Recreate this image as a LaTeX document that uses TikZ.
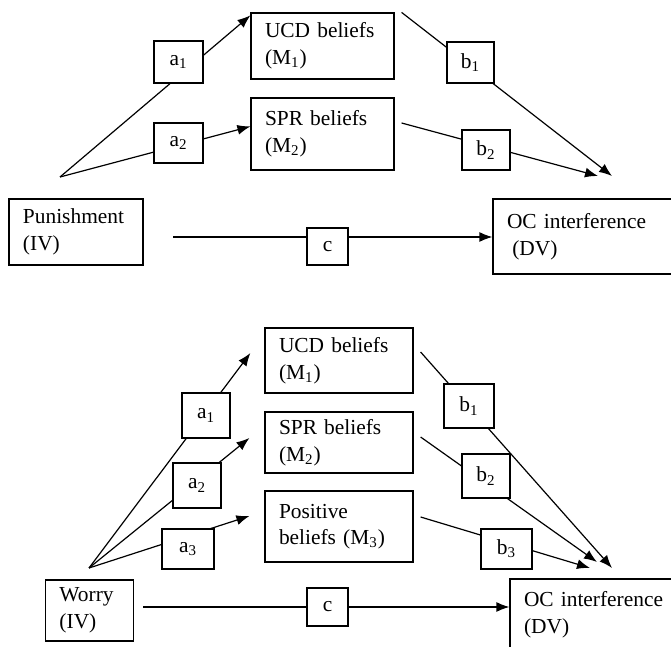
\documentclass[tikz,border=0pt]{standalone}
\usepackage{fontspec}
\setmainfont{Liberation Serif}
\usetikzlibrary{arrows.meta}

\begin{document}
\begin{tikzpicture}[
    x=0.5pt,y=-0.5pt,
    line width=0.6pt,
    font=\fontsize{10.7}{13.3}\selectfont,
    varbox/.style={draw, fill=white, align=left, inner xsep=7pt, inner ysep=0pt},
    coefbox/.style={draw, fill=white, inner sep=0pt},
    link/.style={-{Latex[length=6.5pt,width=5pt]}}
  ]
    \useasboundingbox (0,0) rectangle (671,647);
    \clip (0,0) rectangle (671,647);

    \node[varbox, text width=53pt, minimum height=33pt] (punA) at (76,232)
      {Punishment\\(IV)};
    \node[varbox, text width=57.5pt, minimum height=33pt] (ucdA) at (322.5,46)
      {UCD beliefs\\(M\textsubscript{1})};
    \node[varbox, text width=57.5pt, minimum height=36pt] (sprA) at (322.5,134)
      {SPR beliefs\\(M\textsubscript{2})};
    \node[varbox, text width=79.5pt, minimum height=37.5pt] (ocA) at (586.5,236.5)
      {OC interference\\\hspace*{0.25em}(DV)};

    \coordinate (fanA) at (60,177);
    \coordinate (srcA) at (173,237);
    \coordinate (sinkA1) at (612,176);
    \coordinate (sinkA2) at (598,176);

    \draw[link] (fanA) -- (ucdA.157);
    \draw[link] (fanA) -- (sprA.174);
    \draw[link] ([xshift=3.5pt]ucdA.north east) -- (sinkA1);
    \draw[link] ([xshift=3.5pt,yshift=5.5pt]sprA.east) -- (sinkA2);
    \draw[link] (srcA) -- (srcA -| ocA.west);

    \node[coefbox, minimum width=24.5pt, minimum height=21pt] (a1A) at (178.5,62) {a\textsubscript{1}};
    \node[coefbox, minimum width=24.5pt, minimum height=20pt] (a2A) at (178.5,143) {a\textsubscript{2}};
    \node[coefbox, minimum width=23.5pt, minimum height=20.5pt] (b1A) at (470.5,62.5) {b\textsubscript{1}};
    \node[coefbox, minimum width=24pt, minimum height=20pt] (b2A) at (486,150) {b\textsubscript{2}};
    \node[coefbox, minimum width=20.5pt, minimum height=18.5pt] (cA) at (327.5,246.5) {c};

    \node[varbox, text width=30pt, minimum height=30.5pt] (worryB) at (89.5,610.5)
      {Worry\\(IV)};
    \node[varbox, text width=60pt, minimum height=32.5pt] (ucdB) at (339,360.5)
      {UCD beliefs\\(M\textsubscript{1})};
    \node[varbox, text width=60pt, minimum height=30.5pt] (sprB) at (339,442.5)
      {SPR beliefs\\(M\textsubscript{2})};
    \node[varbox, text width=60pt, minimum height=35.5pt] (posB) at (339,526.5)
      {Positive\\beliefs (M\textsubscript{3})};
    \node[varbox, text width=71pt, minimum height=36pt] (ocB) at (595,615)
      {OC interference\\(DV)};

    \coordinate (fanB) at (89,568);
    \coordinate (srcB) at (143,607);
    \coordinate (sinkB1) at (612,568);
    \coordinate (sinkB2) at (597,562);
    \coordinate (sinkB3) at (590,568);

    \draw[link] (fanB) -- ([xshift=-7pt,yshift=3.75pt]ucdB.west);
    \draw[link] (fanB) -- ([xshift=-7.5pt,yshift=2.25pt]sprB.west);
    \draw[link] (fanB) -- ([xshift=-7.5pt,yshift=5.25pt]posB.west);
    \draw[link] ([xshift=3.5pt,yshift=4.25pt]ucdB.east) -- (sinkB1);
    \draw[link] ([xshift=3.5pt,yshift=2.75pt]sprB.east) -- (sinkB2);
    \draw[link] ([xshift=3.5pt,yshift=4.75pt]posB.east) -- (sinkB3);
    \draw[link] (srcB) -- (srcB -| ocB.west);

    \node[coefbox, minimum width=24pt, minimum height=22.5pt] (a1B) at (206,415.5) {a\textsubscript{1}};
    \node[coefbox, minimum width=24pt, minimum height=22.5pt] (a2B) at (197,485.5) {a\textsubscript{2}};
    \node[coefbox, minimum width=26pt, minimum height=20pt] (a3B) at (188,549) {a\textsubscript{3}};
    \node[coefbox, minimum width=25pt, minimum height=22pt] (b1B) at (469,406) {b\textsubscript{1}};
    \node[coefbox, minimum width=24pt, minimum height=22pt] (b2B) at (486,476) {b\textsubscript{2}};
    \node[coefbox, minimum width=25.5pt, minimum height=20pt] (b3B) at (506.5,549) {b\textsubscript{3}};
    \node[coefbox, minimum width=20.5pt, minimum height=19pt] (cB) at (327.5,607) {c};
  \end{tikzpicture}
\end{document}
